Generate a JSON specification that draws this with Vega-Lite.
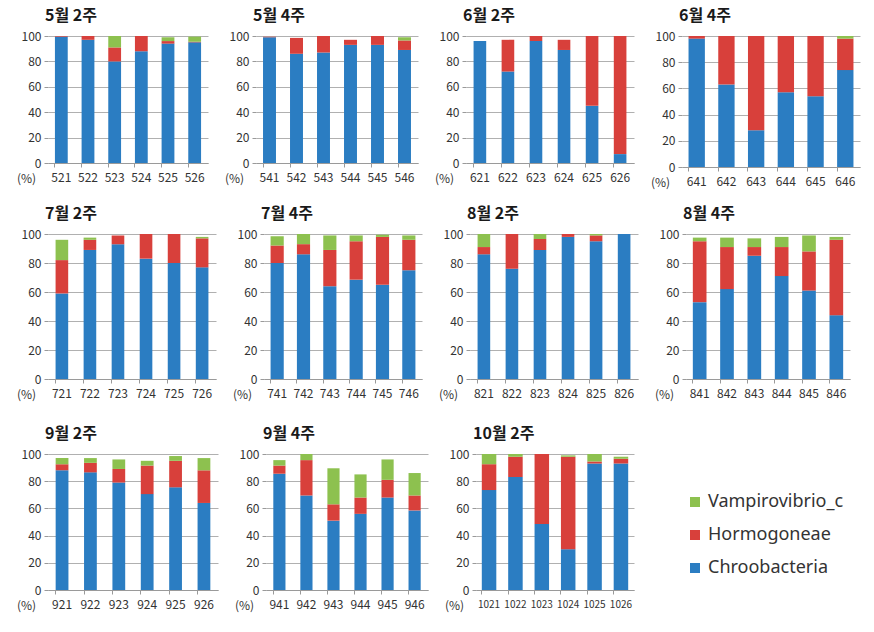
{
  "$schema": "https://vega.github.io/schema/vega-lite/v6.json",
  "padding": {"left": 16, "top": 8, "right": 5, "bottom": 5},
  "background": "white",
  "data": {"values": [
    {"p":"5월 2주","s":"521","Chroobacteria":99.5,"Hormogoneae":0.5,"Vampirovibrio_c":0},
    {"p":"5월 2주","s":"522","Chroobacteria":97,"Hormogoneae":3,"Vampirovibrio_c":0},
    {"p":"5월 2주","s":"523","Chroobacteria":80,"Hormogoneae":11,"Vampirovibrio_c":9},
    {"p":"5월 2주","s":"524","Chroobacteria":88,"Hormogoneae":12,"Vampirovibrio_c":0},
    {"p":"5월 2주","s":"525","Chroobacteria":94,"Hormogoneae":2,"Vampirovibrio_c":3},
    {"p":"5월 2주","s":"526","Chroobacteria":95,"Hormogoneae":0.5,"Vampirovibrio_c":4},
    {"p":"5월 4주","s":"541","Chroobacteria":99,"Hormogoneae":0.5,"Vampirovibrio_c":0},
    {"p":"5월 4주","s":"542","Chroobacteria":86,"Hormogoneae":12.5,"Vampirovibrio_c":0},
    {"p":"5월 4주","s":"543","Chroobacteria":87,"Hormogoneae":13,"Vampirovibrio_c":0},
    {"p":"5월 4주","s":"544","Chroobacteria":93,"Hormogoneae":4,"Vampirovibrio_c":0},
    {"p":"5월 4주","s":"545","Chroobacteria":93,"Hormogoneae":7,"Vampirovibrio_c":0},
    {"p":"5월 4주","s":"546","Chroobacteria":89,"Hormogoneae":7.5,"Vampirovibrio_c":2.5},
    {"p":"6월 2주","s":"621","Chroobacteria":96,"Hormogoneae":0,"Vampirovibrio_c":0},
    {"p":"6월 2주","s":"622","Chroobacteria":72,"Hormogoneae":25,"Vampirovibrio_c":0},
    {"p":"6월 2주","s":"623","Chroobacteria":96,"Hormogoneae":4,"Vampirovibrio_c":0},
    {"p":"6월 2주","s":"624","Chroobacteria":89,"Hormogoneae":8,"Vampirovibrio_c":0},
    {"p":"6월 2주","s":"625","Chroobacteria":45,"Hormogoneae":55,"Vampirovibrio_c":0},
    {"p":"6월 2주","s":"626","Chroobacteria":7,"Hormogoneae":93,"Vampirovibrio_c":0},
    {"p":"6월 4주","s":"641","Chroobacteria":98,"Hormogoneae":2,"Vampirovibrio_c":0},
    {"p":"6월 4주","s":"642","Chroobacteria":63,"Hormogoneae":37,"Vampirovibrio_c":0},
    {"p":"6월 4주","s":"643","Chroobacteria":28,"Hormogoneae":72,"Vampirovibrio_c":0},
    {"p":"6월 4주","s":"644","Chroobacteria":57,"Hormogoneae":43,"Vampirovibrio_c":0},
    {"p":"6월 4주","s":"645","Chroobacteria":54,"Hormogoneae":46,"Vampirovibrio_c":0},
    {"p":"6월 4주","s":"646","Chroobacteria":74,"Hormogoneae":24,"Vampirovibrio_c":2},
    {"p":"7월 2주","s":"721","Chroobacteria":59,"Hormogoneae":23,"Vampirovibrio_c":14},
    {"p":"7월 2주","s":"722","Chroobacteria":89,"Hormogoneae":7,"Vampirovibrio_c":1.5},
    {"p":"7월 2주","s":"723","Chroobacteria":93,"Hormogoneae":6,"Vampirovibrio_c":0},
    {"p":"7월 2주","s":"724","Chroobacteria":83,"Hormogoneae":17,"Vampirovibrio_c":0},
    {"p":"7월 2주","s":"725","Chroobacteria":80,"Hormogoneae":20,"Vampirovibrio_c":0},
    {"p":"7월 2주","s":"726","Chroobacteria":77,"Hormogoneae":20,"Vampirovibrio_c":1},
    {"p":"7월 4주","s":"741","Chroobacteria":80,"Hormogoneae":12,"Vampirovibrio_c":6.5},
    {"p":"7월 4주","s":"742","Chroobacteria":86,"Hormogoneae":7,"Vampirovibrio_c":7},
    {"p":"7월 4주","s":"743","Chroobacteria":64,"Hormogoneae":25,"Vampirovibrio_c":10},
    {"p":"7월 4주","s":"744","Chroobacteria":68.5,"Hormogoneae":26.5,"Vampirovibrio_c":4},
    {"p":"7월 4주","s":"745","Chroobacteria":65,"Hormogoneae":33,"Vampirovibrio_c":1.5},
    {"p":"7월 4주","s":"746","Chroobacteria":75,"Hormogoneae":21,"Vampirovibrio_c":3},
    {"p":"8월 2주","s":"821","Chroobacteria":86,"Hormogoneae":5,"Vampirovibrio_c":9},
    {"p":"8월 2주","s":"822","Chroobacteria":76,"Hormogoneae":24,"Vampirovibrio_c":0},
    {"p":"8월 2주","s":"823","Chroobacteria":89,"Hormogoneae":7.5,"Vampirovibrio_c":3.5},
    {"p":"8월 2주","s":"824","Chroobacteria":98,"Hormogoneae":2,"Vampirovibrio_c":0},
    {"p":"8월 2주","s":"825","Chroobacteria":95,"Hormogoneae":4,"Vampirovibrio_c":1},
    {"p":"8월 2주","s":"826","Chroobacteria":100,"Hormogoneae":0,"Vampirovibrio_c":0},
    {"p":"8월 4주","s":"841","Chroobacteria":53,"Hormogoneae":42,"Vampirovibrio_c":2.5},
    {"p":"8월 4주","s":"842","Chroobacteria":62,"Hormogoneae":29,"Vampirovibrio_c":6.5},
    {"p":"8월 4주","s":"843","Chroobacteria":85,"Hormogoneae":6,"Vampirovibrio_c":6},
    {"p":"8월 4주","s":"844","Chroobacteria":71,"Hormogoneae":20,"Vampirovibrio_c":7},
    {"p":"8월 4주","s":"845","Chroobacteria":61,"Hormogoneae":27,"Vampirovibrio_c":11},
    {"p":"8월 4주","s":"846","Chroobacteria":44,"Hormogoneae":52,"Vampirovibrio_c":2},
    {"p":"9월 2주","s":"921","Chroobacteria":88,"Hormogoneae":4.5,"Vampirovibrio_c":4.5},
    {"p":"9월 2주","s":"922","Chroobacteria":86.5,"Hormogoneae":7,"Vampirovibrio_c":3.5},
    {"p":"9월 2주","s":"923","Chroobacteria":79,"Hormogoneae":10,"Vampirovibrio_c":7},
    {"p":"9월 2주","s":"924","Chroobacteria":70.5,"Hormogoneae":21,"Vampirovibrio_c":3.5},
    {"p":"9월 2주","s":"925","Chroobacteria":75.5,"Hormogoneae":19.5,"Vampirovibrio_c":3.5},
    {"p":"9월 2주","s":"926","Chroobacteria":64,"Hormogoneae":24,"Vampirovibrio_c":9},
    {"p":"9월 4주","s":"941","Chroobacteria":85.5,"Hormogoneae":6,"Vampirovibrio_c":4},
    {"p":"9월 4주","s":"942","Chroobacteria":69.5,"Hormogoneae":26,"Vampirovibrio_c":4.5},
    {"p":"9월 4주","s":"943","Chroobacteria":51,"Hormogoneae":12,"Vampirovibrio_c":26.5},
    {"p":"9월 4주","s":"944","Chroobacteria":56,"Hormogoneae":12,"Vampirovibrio_c":17},
    {"p":"9월 4주","s":"945","Chroobacteria":68,"Hormogoneae":13,"Vampirovibrio_c":15},
    {"p":"9월 4주","s":"946","Chroobacteria":58.5,"Hormogoneae":11,"Vampirovibrio_c":16.5},
    {"p":"10월 2주","s":"1021","Chroobacteria":73.5,"Hormogoneae":19,"Vampirovibrio_c":7.5},
    {"p":"10월 2주","s":"1022","Chroobacteria":83,"Hormogoneae":15,"Vampirovibrio_c":2},
    {"p":"10월 2주","s":"1023","Chroobacteria":48.5,"Hormogoneae":51.5,"Vampirovibrio_c":0},
    {"p":"10월 2주","s":"1024","Chroobacteria":30,"Hormogoneae":68,"Vampirovibrio_c":1},
    {"p":"10월 2주","s":"1025","Chroobacteria":93,"Hormogoneae":1.5,"Vampirovibrio_c":5.5},
    {"p":"10월 2주","s":"1026","Chroobacteria":93,"Hormogoneae":3.5,"Vampirovibrio_c":1.5}
  ]},
  "transform": [{"fold": ["Chroobacteria","Hormogoneae","Vampirovibrio_c"], "as": ["class","value"]}],
  "spacing": 26,
  "vconcat": [
    {"spacing": 18, "vconcat": [
    {"hconcat": [
      {"width":160,"height":127,"title":"5월 2주","transform":[{"filter":{"field":"p","equal":"5월 2주"}}],"mark":"bar",
       "encoding":{"x":{"field":"s","type":"nominal","sort":"ascending","scale":{"paddingInner":0.52,"paddingOuter":0.26},"axis":{"title":null,"labelAngle":0}},
        "y":{"field":"value","type":"quantitative","scale":{"domain":[0,100]},"axis":{"title":"(%)","titleY":142,"values":[0,20,40,60,80,100]}},
        "color":{"field":"class","type":"nominal","scale":{"domain":["Vampirovibrio_c","Hormogoneae","Chroobacteria"],"range":["#8dc14f","#d8403b","#2b7dc2"]},"legend":{"title":null}},
        "order":{"field":"class","sort":"ascending"}}},
      {"width":162,"height":127,"title":"5월 4주","transform":[{"filter":{"field":"p","equal":"5월 4주"}}],"mark":"bar",
       "encoding":{"x":{"field":"s","type":"nominal","sort":"ascending","scale":{"paddingInner":0.52,"paddingOuter":0.26},"axis":{"title":null,"labelAngle":0}},
        "y":{"field":"value","type":"quantitative","scale":{"domain":[0,100]},"axis":{"title":"(%)","titleY":142,"values":[0,20,40,60,80,100]}},
        "color":{"field":"class","type":"nominal","scale":{"domain":["Vampirovibrio_c","Hormogoneae","Chroobacteria"],"range":["#8dc14f","#d8403b","#2b7dc2"]},"legend":{"title":null}},
        "order":{"field":"class","sort":"ascending"}}},
      {"width":168,"height":127,"title":"6월 2주","transform":[{"filter":{"field":"p","equal":"6월 2주"}}],"mark":"bar",
       "encoding":{"x":{"field":"s","type":"nominal","sort":"ascending","scale":{"paddingInner":0.55,"paddingOuter":0.27},"axis":{"title":null,"labelAngle":0}},
        "y":{"field":"value","type":"quantitative","scale":{"domain":[0,100]},"axis":{"title":"(%)","titleY":142,"values":[0,20,40,60,80,100]}},
        "color":{"field":"class","type":"nominal","scale":{"domain":["Vampirovibrio_c","Hormogoneae","Chroobacteria"],"range":["#8dc14f","#d8403b","#2b7dc2"]},"legend":{"title":null}},
        "order":{"field":"class","sort":"ascending"}}},
      {"width":178,"height":131,"title":"6월 4주","transform":[{"filter":{"field":"p","equal":"6월 4주"}}],"mark":"bar",
       "encoding":{"x":{"field":"s","type":"nominal","sort":"ascending","scale":{"paddingInner":0.45,"paddingOuter":0.22},"axis":{"title":null,"labelAngle":0}},
        "y":{"field":"value","type":"quantitative","scale":{"domain":[0,100]},"axis":{"title":"(%)","titleY":146,"values":[0,20,40,60,80,100]}},
        "color":{"field":"class","type":"nominal","scale":{"domain":["Vampirovibrio_c","Hormogoneae","Chroobacteria"],"range":["#8dc14f","#d8403b","#2b7dc2"]},"legend":{"title":null}},
        "order":{"field":"class","sort":"ascending"}}}
    ]},
    {"hconcat": [
      {"width":168,"height":145,"title":"7월 2주","transform":[{"filter":{"field":"p","equal":"7월 2주"}}],"mark":"bar",
       "encoding":{"x":{"field":"s","type":"nominal","sort":"ascending","scale":{"paddingInner":0.55,"paddingOuter":0.27},"axis":{"title":null,"labelAngle":0}},
        "y":{"field":"value","type":"quantitative","scale":{"domain":[0,100]},"axis":{"title":"(%)","titleY":160,"values":[0,20,40,60,80,100]}},
        "color":{"field":"class","type":"nominal","scale":{"domain":["Vampirovibrio_c","Hormogoneae","Chroobacteria"],"range":["#8dc14f","#d8403b","#2b7dc2"]},"legend":{"title":null}},
        "order":{"field":"class","sort":"ascending"}}},
      {"width":158,"height":145,"title":"7월 4주","transform":[{"filter":{"field":"p","equal":"7월 4주"}}],"mark":"bar",
       "encoding":{"x":{"field":"s","type":"nominal","sort":"ascending","scale":{"paddingInner":0.5,"paddingOuter":0.25},"axis":{"title":null,"labelAngle":0}},
        "y":{"field":"value","type":"quantitative","scale":{"domain":[0,100]},"axis":{"title":"(%)","titleY":160,"values":[0,20,40,60,80,100]}},
        "color":{"field":"class","type":"nominal","scale":{"domain":["Vampirovibrio_c","Hormogoneae","Chroobacteria"],"range":["#8dc14f","#d8403b","#2b7dc2"]},"legend":{"title":null}},
        "order":{"field":"class","sort":"ascending"}}},
      {"width":168,"height":145,"title":"8월 2주","transform":[{"filter":{"field":"p","equal":"8월 2주"}}],"mark":"bar",
       "encoding":{"x":{"field":"s","type":"nominal","sort":"ascending","scale":{"paddingInner":0.55,"paddingOuter":0.27},"axis":{"title":null,"labelAngle":0}},
        "y":{"field":"value","type":"quantitative","scale":{"domain":[0,100]},"axis":{"title":"(%)","titleY":160,"values":[0,20,40,60,80,100]}},
        "color":{"field":"class","type":"nominal","scale":{"domain":["Vampirovibrio_c","Hormogoneae","Chroobacteria"],"range":["#8dc14f","#d8403b","#2b7dc2"]},"legend":{"title":null}},
        "order":{"field":"class","sort":"ascending"}}},
      {"width":164,"height":145,"title":"8월 4주","transform":[{"filter":{"field":"p","equal":"8월 4주"}}],"mark":"bar",
       "encoding":{"x":{"field":"s","type":"nominal","sort":"ascending","scale":{"paddingInner":0.5,"paddingOuter":0.25},"axis":{"title":null,"labelAngle":0}},
        "y":{"field":"value","type":"quantitative","scale":{"domain":[0,100]},"axis":{"title":"(%)","titleY":160,"values":[0,20,40,60,80,100]}},
        "color":{"field":"class","type":"nominal","scale":{"domain":["Vampirovibrio_c","Hormogoneae","Chroobacteria"],"range":["#8dc14f","#d8403b","#2b7dc2"]},"legend":{"title":null}},
        "order":{"field":"class","sort":"ascending"}}}
    ]}
    ]},
    {"hconcat": [
      {"width":170,"height":136,"title":"9월 2주","transform":[{"filter":{"field":"p","equal":"9월 2주"}}],"mark":"bar",
       "encoding":{"x":{"field":"s","type":"nominal","sort":"ascending","scale":{"paddingInner":0.55,"paddingOuter":0.27},"axis":{"title":null,"labelAngle":0}},
        "y":{"field":"value","type":"quantitative","scale":{"domain":[0,100]},"axis":{"title":"(%)","titleY":151,"values":[0,20,40,60,80,100]}},
        "color":{"field":"class","type":"nominal","scale":{"domain":["Vampirovibrio_c","Hormogoneae","Chroobacteria"],"range":["#8dc14f","#d8403b","#2b7dc2"]},"legend":{"title":null}},
        "order":{"field":"class","sort":"ascending"}}},
      {"width":162,"height":136,"title":"9월 4주","transform":[{"filter":{"field":"p","equal":"9월 4주"}}],"mark":"bar",
       "encoding":{"x":{"field":"s","type":"nominal","sort":"ascending","scale":{"paddingInner":0.55,"paddingOuter":0.27},"axis":{"title":null,"labelAngle":0}},
        "y":{"field":"value","type":"quantitative","scale":{"domain":[0,100]},"axis":{"title":"(%)","titleY":151,"values":[0,20,40,60,80,100]}},
        "color":{"field":"class","type":"nominal","scale":{"domain":["Vampirovibrio_c","Hormogoneae","Chroobacteria"],"range":["#8dc14f","#d8403b","#2b7dc2"]},"legend":{"title":null}},
        "order":{"field":"class","sort":"ascending"}}},
      {"width":158,"height":136,"title":"10월 2주","transform":[{"filter":{"field":"p","equal":"10월 2주"}}],"mark":"bar",
       "encoding":{"x":{"field":"s","type":"nominal","sort":"ascending","scale":{"paddingInner":0.45,"paddingOuter":0.22},"axis":{"title":null,"labelAngle":0,"labelFontSize":10}},
        "y":{"field":"value","type":"quantitative","scale":{"domain":[0,100]},"axis":{"title":"(%)","titleY":151,"values":[0,20,40,60,80,100]}},
        "color":{"field":"class","type":"nominal","scale":{"domain":["Vampirovibrio_c","Hormogoneae","Chroobacteria"],"range":["#8dc14f","#d8403b","#2b7dc2"]},"legend":{"title":null}},
        "order":{"field":"class","sort":"ascending"}}}
    ]}
  ],
  "config": {
    "font": "Noto Sans CJK KR",
    "view": {"stroke": null},
    "concat": {"spacing": 16},
    "hconcat": {"spacing": 16},
    "title": {"anchor": "start", "frame": "group", "fontSize": 16, "fontWeight": "bold", "color": "#1a1a1a", "offset": 6, "dx": -3},
    "axis": {"labelFontSize": 12, "labelColor": "#333333", "domainColor": "#9a9a9a", "tickColor": "#9a9a9a"},
    "axisY": {"grid": true, "gridColor": "#b0b0b0", "domain": false, "tickSize": 4, "labelPadding": 3,
      "titleAngle": 0, "titleX": -22, "titleFontWeight": "normal", "titleFontSize": 12, "titleColor": "#333333",
      "titleAlign": "center", "titleBaseline": "middle"},
    "axisX": {"grid": false, "bandPosition": 0, "tickSize": 4, "labelPadding": 5},
    "legend": {"orient": "none", "legendX": 638, "legendY": 457, "symbolType": "square", "symbolSize": 100,
      "symbolStrokeWidth": 0, "labelFontSize": 18, "rowPadding": 15, "labelColor": "#333333", "labelFont": "Noto Sans"}
  }
}
